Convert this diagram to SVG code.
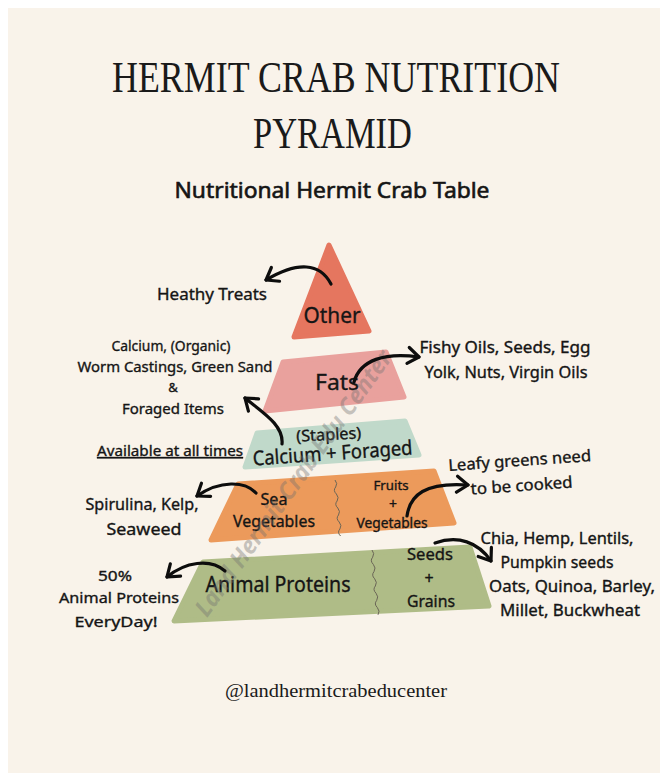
<svg xmlns="http://www.w3.org/2000/svg" width="660" height="773" viewBox="0 0 660 773">
<defs>
<style>
.h{font-family:"Noto Sans","DejaVu Sans",sans-serif;fill:#151515;stroke:#151515;stroke-width:0.35;}
.t{font-family:"Liberation Serif","DejaVu Serif",serif;fill:#1a1a1a;}
.arr{fill:none;stroke:#0d0d0d;stroke-width:3.2;stroke-linecap:round;marker-end:url(#ah);}
.div{fill:none;stroke:#6a6556;stroke-width:1;}
.tier{stroke-linejoin:round;stroke-width:5;}
</style>
<marker id="ah" markerUnits="userSpaceOnUse" markerWidth="22" markerHeight="22" refX="14" refY="10" orient="auto">
<path d="M3,2 L14,10 L3,18" fill="none" stroke="#0d0d0d" stroke-width="3.2" stroke-linecap="round" stroke-linejoin="round"/>
</marker>
</defs>
<rect width="660" height="773" fill="#ffffff"/>
<rect x="8" y="8" width="652" height="765" fill="#F9F3EA"/>

<g id="title">
<text class="t" x="336" y="92" font-size="44" text-anchor="middle" textLength="448" lengthAdjust="spacingAndGlyphs">HERMIT CRAB NUTRITION</text>
<text class="t" x="332.5" y="148" font-size="44" text-anchor="middle" textLength="159" lengthAdjust="spacingAndGlyphs">PYRAMID</text>
<text class="h" x="332" y="198" font-size="21" text-anchor="middle" textLength="315" lengthAdjust="spacingAndGlyphs" style="stroke-width:0.6">Nutritional Hermit Crab Table</text>
</g>

<g id="tier-other">
<polygon class="tier" points="329,245 369,331 294,337" fill="#E5765F" stroke="#E5765F"/>
<text class="h" x="332" y="323" font-size="22" text-anchor="middle" textLength="57" lengthAdjust="spacingAndGlyphs">Other</text>
</g>
<g id="tier-fats">
<polygon class="tier" points="283,362 386,352 404,397 265,411" fill="#E9A19D" stroke="#E9A19D"/>
<text class="h" x="337" y="390" font-size="22" text-anchor="middle" textLength="44" lengthAdjust="spacingAndGlyphs">Fats</text>
</g>
<g id="tier-staples">
<polygon class="tier" points="257,433 405,421 419,455 245,467" fill="#C0D9CA" stroke="#C0D9CA"/>
<text class="h" x="329" y="440" font-size="16" text-anchor="middle" textLength="65" lengthAdjust="spacingAndGlyphs" transform="rotate(-3 329 440)">(Staples)</text>
<text class="h" x="333" y="460" font-size="20" text-anchor="middle" textLength="160" lengthAdjust="spacingAndGlyphs" transform="rotate(-4 333 460)">Calcium + Foraged</text>
</g>
<g id="tier-vegetables">
<polygon class="tier" points="238,484 434,471 454,523 211,540" fill="#EC9A5B" stroke="#EC9A5B"/>
<path class="div" d="M335,480 q3,3.5 0.7,7 q-3,3.5 0.7,7 q3,3.5 0.7,7 q-3,3.5 0.7,7 q3,3.5 0.7,7 q-3,3.5 0.7,7 q3,3.5 0.7,7 q-3,3.5 0.7,7"/>
<text class="h" x="274" y="505" font-size="16" text-anchor="middle" textLength="27" lengthAdjust="spacingAndGlyphs">Sea</text>
<text class="h" x="274" y="527" font-size="16" text-anchor="middle" textLength="82" lengthAdjust="spacingAndGlyphs">Vegetables</text>
<text class="h" x="391" y="490" font-size="13" text-anchor="middle" textLength="35" lengthAdjust="spacingAndGlyphs">Fruits</text>
<text class="h" x="393" y="509" font-size="14" text-anchor="middle">+</text>
<text class="h" x="392" y="528" font-size="14" text-anchor="middle" textLength="71" lengthAdjust="spacingAndGlyphs">Vegetables</text>
</g>
<g id="tier-proteins">
<polygon class="tier" points="203,562 470,547 489,606 174,621" fill="#AFBC87" stroke="#AFBC87"/>
<path class="div" d="M372,550 q3,3.6 0.67,7.2 q-3,3.6 0.67,7.2 q3,3.6 0.67,7.2 q-3,3.6 0.67,7.2 q3,3.6 0.67,7.2 q-3,3.6 0.67,7.2 q3,3.6 0.67,7.2 q-3,3.6 0.67,7.2 q3,3.6 0.67,7.2"/>
<text class="h" x="278" y="592" font-size="21" text-anchor="middle" textLength="145" lengthAdjust="spacingAndGlyphs">Animal Proteins</text>
<text class="h" x="430" y="560" font-size="17" text-anchor="middle" textLength="46" lengthAdjust="spacingAndGlyphs">Seeds</text>
<text class="h" x="429" y="584" font-size="16" text-anchor="middle">+</text>
<text class="h" x="431" y="607" font-size="17" text-anchor="middle" textLength="48" lengthAdjust="spacingAndGlyphs">Grains</text>
</g>

<text x="300" y="488" font-family="Noto Sans, DejaVu Sans, sans-serif" font-size="24" font-weight="bold" font-style="italic" fill="#6f6f6f" fill-opacity="0.38" text-anchor="middle" textLength="320" lengthAdjust="spacingAndGlyphs" transform="rotate(-54.5 300 488)">Land Hermit Crab Edu Center</text>

<g id="connectors">
<path class="arr" d="M331,284 C320,263 298,261 266,280"/>
<path class="arr" d="M354,382 C360,360 385,352 419,357"/>
<path class="arr" d="M282,444 C284,425 262,412 245,398"/>
<path class="arr" d="M256,493 C245,481 220,480 197,496"/>
<path class="arr" d="M407,516 C410,495 425,482 468,485"/>
<path class="arr" d="M435,543 C458,535 478,542 491,561"/>
<path class="arr" d="M225,571 C210,558 185,562 167,577"/>
</g>

<g id="label-treats">
<text class="h" x="212" y="300" font-size="16" text-anchor="middle" textLength="110" lengthAdjust="spacingAndGlyphs">Heathy Treats</text>
</g>
<g id="label-calcium">
<text class="h" x="171" y="351" font-size="15" text-anchor="middle" textLength="119" lengthAdjust="spacingAndGlyphs">Calcium, (Organic)</text>
<text class="h" x="175" y="372" font-size="15" text-anchor="middle" textLength="195" lengthAdjust="spacingAndGlyphs">Worm  Castings, Green Sand</text>
<text class="h" x="173" y="392" font-size="13" text-anchor="middle">&amp;</text>
<text class="h" x="173" y="414" font-size="15" text-anchor="middle" textLength="102" lengthAdjust="spacingAndGlyphs">Foraged Items</text>
</g>
<g id="label-available">
<text class="h" x="170" y="456" font-size="14" text-anchor="middle" textLength="146" lengthAdjust="spacingAndGlyphs" text-decoration="underline">Available at all times</text>
</g>
<g id="label-fats">
<text class="h" x="505" y="353" font-size="16" text-anchor="middle" textLength="171" lengthAdjust="spacingAndGlyphs">Fishy Oils, Seeds, Egg</text>
<text class="h" x="506" y="378" font-size="16" text-anchor="middle" textLength="163" lengthAdjust="spacingAndGlyphs">Yolk, Nuts, Virgin Oils</text>
</g>
<g id="label-leafy">
<text class="h" x="520" y="466" font-size="16" text-anchor="middle" textLength="143" lengthAdjust="spacingAndGlyphs" transform="rotate(-4 520 466)">Leafy greens need</text>
<text class="h" x="522" y="491" font-size="16" text-anchor="middle" textLength="102" lengthAdjust="spacingAndGlyphs" transform="rotate(-4 522 491)">to be cooked</text>
</g>
<g id="label-sea">
<text class="h" x="142" y="510" font-size="16" text-anchor="middle" textLength="113" lengthAdjust="spacingAndGlyphs">Spirulina, Kelp,</text>
<text class="h" x="144" y="535" font-size="16" text-anchor="middle" textLength="75" lengthAdjust="spacingAndGlyphs">Seaweed</text>
</g>
<g id="label-seeds">
<text class="h" x="557" y="544" font-size="16" text-anchor="middle" textLength="153" lengthAdjust="spacingAndGlyphs">Chia, Hemp, Lentils,</text>
<text class="h" x="557" y="568" font-size="16" text-anchor="middle" textLength="113" lengthAdjust="spacingAndGlyphs">Pumpkin seeds</text>
<text class="h" x="572" y="592" font-size="16" text-anchor="middle" textLength="166" lengthAdjust="spacingAndGlyphs">Oats, Quinoa, Barley,</text>
<text class="h" x="570" y="616" font-size="16" text-anchor="middle" textLength="140" lengthAdjust="spacingAndGlyphs">Millet, Buckwheat</text>
</g>
<g id="label-proteins">
<text class="h" x="115" y="581" font-size="15" text-anchor="middle" textLength="34" lengthAdjust="spacingAndGlyphs">50%</text>
<text class="h" x="119" y="603" font-size="15" text-anchor="middle" textLength="120" lengthAdjust="spacingAndGlyphs">Animal Proteins</text>
<text class="h" x="116" y="627" font-size="15" text-anchor="middle" textLength="83" lengthAdjust="spacingAndGlyphs">EveryDay!</text>
</g>

<g id="footer">
<text class="t" x="336" y="697" font-size="19" text-anchor="middle" textLength="222" lengthAdjust="spacingAndGlyphs">@landhermitcrabeducenter</text>
</g>
</svg>
